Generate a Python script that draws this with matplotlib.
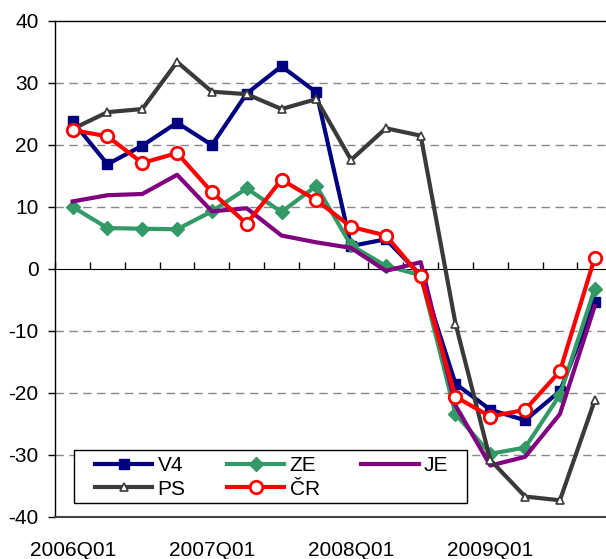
import numpy as np
import matplotlib.pyplot as plt
from matplotlib.patches import Rectangle

plt.rcParams['font.family'] = ['Liberation Sans', 'DejaVu Sans']
plt.rcParams['axes.unicode_minus'] = False

quarters = ['2006Q01', '2006Q02', '2006Q03', '2006Q04',
            '2007Q01', '2007Q02', '2007Q03', '2007Q04',
            '2008Q01', '2008Q02', '2008Q03', '2008Q04',
            '2009Q01', '2009Q02', '2009Q03', '2009Q04']

v4 = [23.8, 16.9, 19.9, 23.6, 20.0, 28.3, 32.7, 28.5, 3.7, 4.8, -1.0, -18.5, -22.7, -24.4, -19.7, -5.4]
ze = [10.0, 6.6, 6.5, 6.4, 9.3, 13.0, 9.2, 13.4, 3.8, 0.5, -1.0, -23.4, -29.8, -28.8, -20.3, -3.2]
je = [10.9, 11.9, 12.1, 15.2, 9.3, 9.8, 5.4, 4.3, 3.4, -0.3, 1.1, -22.0, -31.7, -30.3, -23.4, -6.0]
ps = [22.6, 25.3, 25.8, 33.4, 28.6, 28.2, 25.8, 27.4, 17.6, 22.7, 21.5, -8.8, -30.8, -36.7, -37.3, -21.2]
cr = [22.4, 21.4, 17.1, 18.7, 12.4, 7.3, 14.4, 11.1, 6.8, 5.4, -1.2, -20.6, -23.8, -22.7, -16.5, 1.8]

x = np.arange(len(quarters))

fig = plt.figure(figsize=(6.06, 5.59), dpi=100)
ax = fig.add_axes([55.3 / 606, 42 / 559, 556.8 / 606, 496 / 559])

lw = 3
l_v4, = ax.plot(x, v4, color='#000080', lw=lw, marker='s', ms=7, label='V4', zorder=3)
l_ze, = ax.plot(x, ze, color='#339966', lw=lw, marker='D', ms=7, label='ZE', zorder=4)
l_je, = ax.plot(x, je, color='#800080', lw=lw, label='JE', zorder=5)
l_ps, = ax.plot(x, ps, color='#3a3a3a', lw=lw, marker='^', ms=6, mfc='white',
                mec='#3a3a3a', mew=1.2, label='PS', zorder=6)
l_cr, = ax.plot(x, cr, color='#ff0000', lw=lw, marker='o', ms=9, mfc='white',
                mec='#ff0000', mew=2, label='ČR', zorder=7)

ax.set_xlim(-0.5, 15.5)
ax.set_ylim(-40, 40)
ax.set_yticks(np.arange(-40, 41, 10))
for v in [-30, -20, -10, 10, 20, 30]:
    ax.axhline(v, color='#888888', lw=1, ls=(0, (6, 4)), zorder=1)

ax.tick_params(axis='y', labelsize=15, length=5, width=1, pad=7)
ax.spines['left'].set_linewidth(1)
ax.spines['top'].set_linewidth(1)
ax.spines['bottom'].set_color('#444444')
ax.spines['bottom'].set_linewidth(1.5)
ax.spines['right'].set_visible(False)

# quarter labels at the bottom
ax.set_xticks(x[::4])
ax.set_xticklabels(quarters[::4])
ax.tick_params(axis='x', labelsize=15, length=0, pad=17)

# category axis crossing at zero
sec = ax.secondary_xaxis(0.5)
sec.set_xticks(np.arange(-0.5, 16, 1))
sec.set_xticklabels([])
sec.tick_params(length=5, width=1, direction='out')
sec.spines['bottom'].set_linewidth(1)

# legend box drawn separately, entries placed inside it
box = Rectangle((0.0336, 0.0282), 0.706, 0.1069, transform=ax.transAxes,
                facecolor='white', edgecolor='black', lw=1, zorder=9)
ax.add_patch(box)
leg = ax.legend(handles=[l_v4, l_ps, l_ze, l_cr, l_je], ncol=3,
                loc='upper left', bbox_to_anchor=(0.0713, 0.123),
                borderaxespad=0, borderpad=0, fontsize=15, handlelength=2.75,
                handletextpad=0.25, labelspacing=0.22, columnspacing=2.0,
                frameon=False)
leg.set_zorder(10)

fig.savefig('out.png', dpi=100)
